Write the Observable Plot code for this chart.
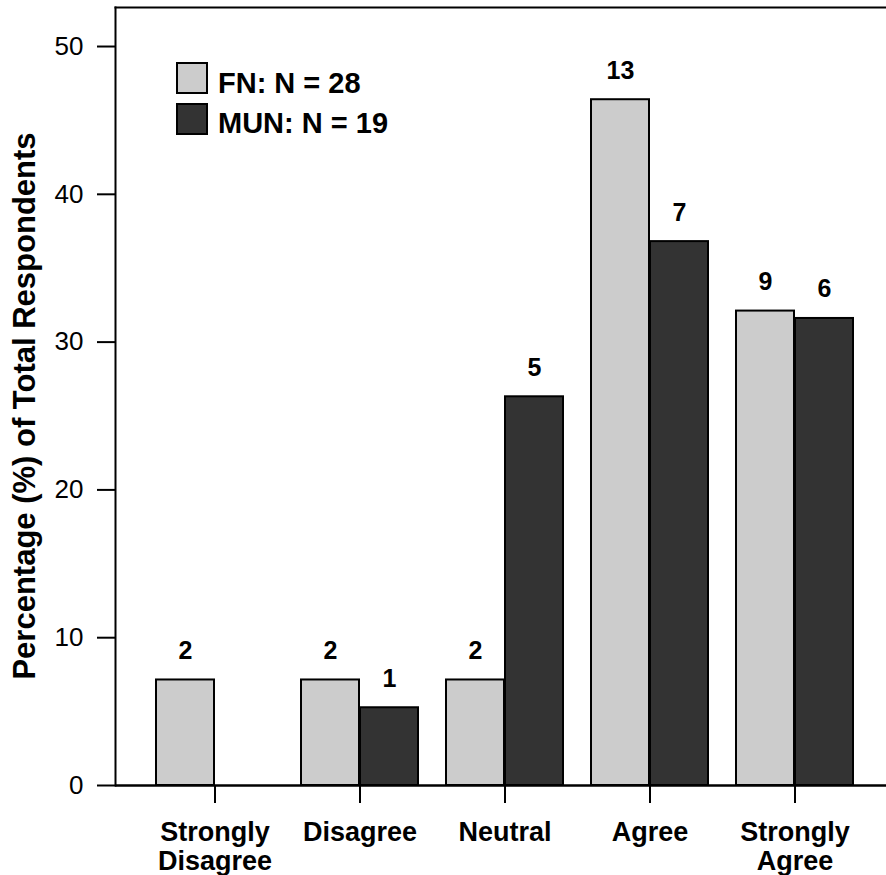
<!DOCTYPE html>
<html>
<head>
<meta charset="utf-8">
<script src="https://cdn.jsdelivr.net/npm/d3@7"></script>
<script src="https://cdn.jsdelivr.net/npm/@observablehq/plot@0.6"></script>
<style>
  body { margin: 0; background: #fff; font-family: "Liberation Sans", Arial, sans-serif; }
  #wrap { position: relative; width: 886px; height: 875px; overflow: hidden; }
  #wrap svg { position: absolute; left: 0; top: 0; }
  .sw { position: absolute; box-sizing: border-box; width: 32px; height: 32px; border: 2px solid #000; }
  .lt { position: absolute; font-weight: bold; font-size: 29px; line-height: 32px; white-space: nowrap; color: #000; }
  .ytitle { position: absolute; left: 7px; top: 406px; font-weight: bold; font-size: 31px; line-height: 36px;
            white-space: nowrap; transform-origin: 0 0; transform: rotate(-90deg) translateX(-50%); color: #000; }
</style>
</head>
<body>
<div id="wrap"></div>
<script>
// ---- data ----
const categories = ["Strongly Disagree", "Disagree", "Neutral", "Agree", "Strongly Agree"];
const tickLabels = ["Strongly\nDisagree", "Disagree", "Neutral", "Agree", "Strongly\nAgree"];
const series = ["FN: N = 28", "MUN: N = 19"];
const fnPct = [7.14, 7.14, 7.14, 46.4, 32.1];
const munPct = [0, 5.26, 26.3, 36.8, 31.6];
const fnCounts = [2, 2, 2, 13, 9];
const munCounts = [0, 1, 5, 7, 6];
const yTicks = [0, 10, 20, 30, 40, 50];
const yTitle = "Percentage (%) of Total Respondents";
const colors = ["#cccccc", "#333333"];

const fn = categories.map((c, i) => ({cat: c, pct: fnPct[i], n: fnCounts[i]}));
const mun = categories.map((c, i) => ({cat: c, pct: munPct[i], n: munCounts[i]}));

const textStyle = {fontWeight: "bold", fontSize: 25, fill: "black", lineAnchor: "bottom", dy: -21};

const chart = Plot.plot({
  width: 886,
  height: 875,
  marginLeft: 115,
  marginRight: 0,
  marginTop: 7,
  marginBottom: 90,
  style: {fontFamily: "'Liberation Sans', Arial, sans-serif", background: "white", color: "black"},
  x: {domain: categories, range: [115, 895], paddingInner: 0.19, paddingOuter: 0.275, label: null},
  y: {domain: [0, 52.64], label: null},
  marks: [
    Plot.barY(fn, {x: "cat", y: "pct", fill: colors[0], stroke: "black", strokeWidth: 2, insetRight: 59}),
    Plot.barY(mun, {x: "cat", y: "pct", fill: colors[1], stroke: "black", strokeWidth: 2, insetLeft: 59}),
    Plot.text(fn.filter(d => d.n > 0), {x: "cat", y: "pct", text: d => String(d.n), dx: -29.5, ...textStyle}),
    Plot.text(mun.filter(d => d.n > 0), {x: "cat", y: "pct", text: d => String(d.n), dx: 29.5, ...textStyle}),
    Plot.ruleY([0], {stroke: "black", strokeWidth: 2.5}),
    Plot.frame({anchor: "left", stroke: "black", strokeWidth: 2}),
    Plot.frame({anchor: "top", stroke: "black", strokeWidth: 2}),
    Plot.axisY({ticks: yTicks, tickSize: 18, tickPadding: 14, fontSize: 26, strokeWidth: 2, label: null}),
    Plot.axisX({tickSize: 18, tickPadding: 17, fontSize: 27, fontWeight: "bold", lineHeight: 1.07,
                strokeWidth: 2, tickFormat: (d, i) => tickLabels[categories.indexOf(d)], label: null})
  ]
});

const wrap = document.getElementById("wrap");
wrap.appendChild(chart);

// legend (inside plot area)
const legendPos = [{sq: 62, tx: 67}, {sq: 103, tx: 107}];
series.forEach((s, i) => {
  const sw = document.createElement("div");
  sw.className = "sw";
  sw.style.left = "176px";
  sw.style.top = legendPos[i].sq + "px";
  sw.style.background = colors[i];
  wrap.appendChild(sw);
  const t = document.createElement("div");
  t.className = "lt";
  t.style.left = "218px";
  t.style.top = legendPos[i].tx + "px";
  t.textContent = s;
  wrap.appendChild(t);
});

const yt = document.createElement("div");
yt.className = "ytitle";
yt.textContent = yTitle;
wrap.appendChild(yt);
</script>
</body>
</html>
